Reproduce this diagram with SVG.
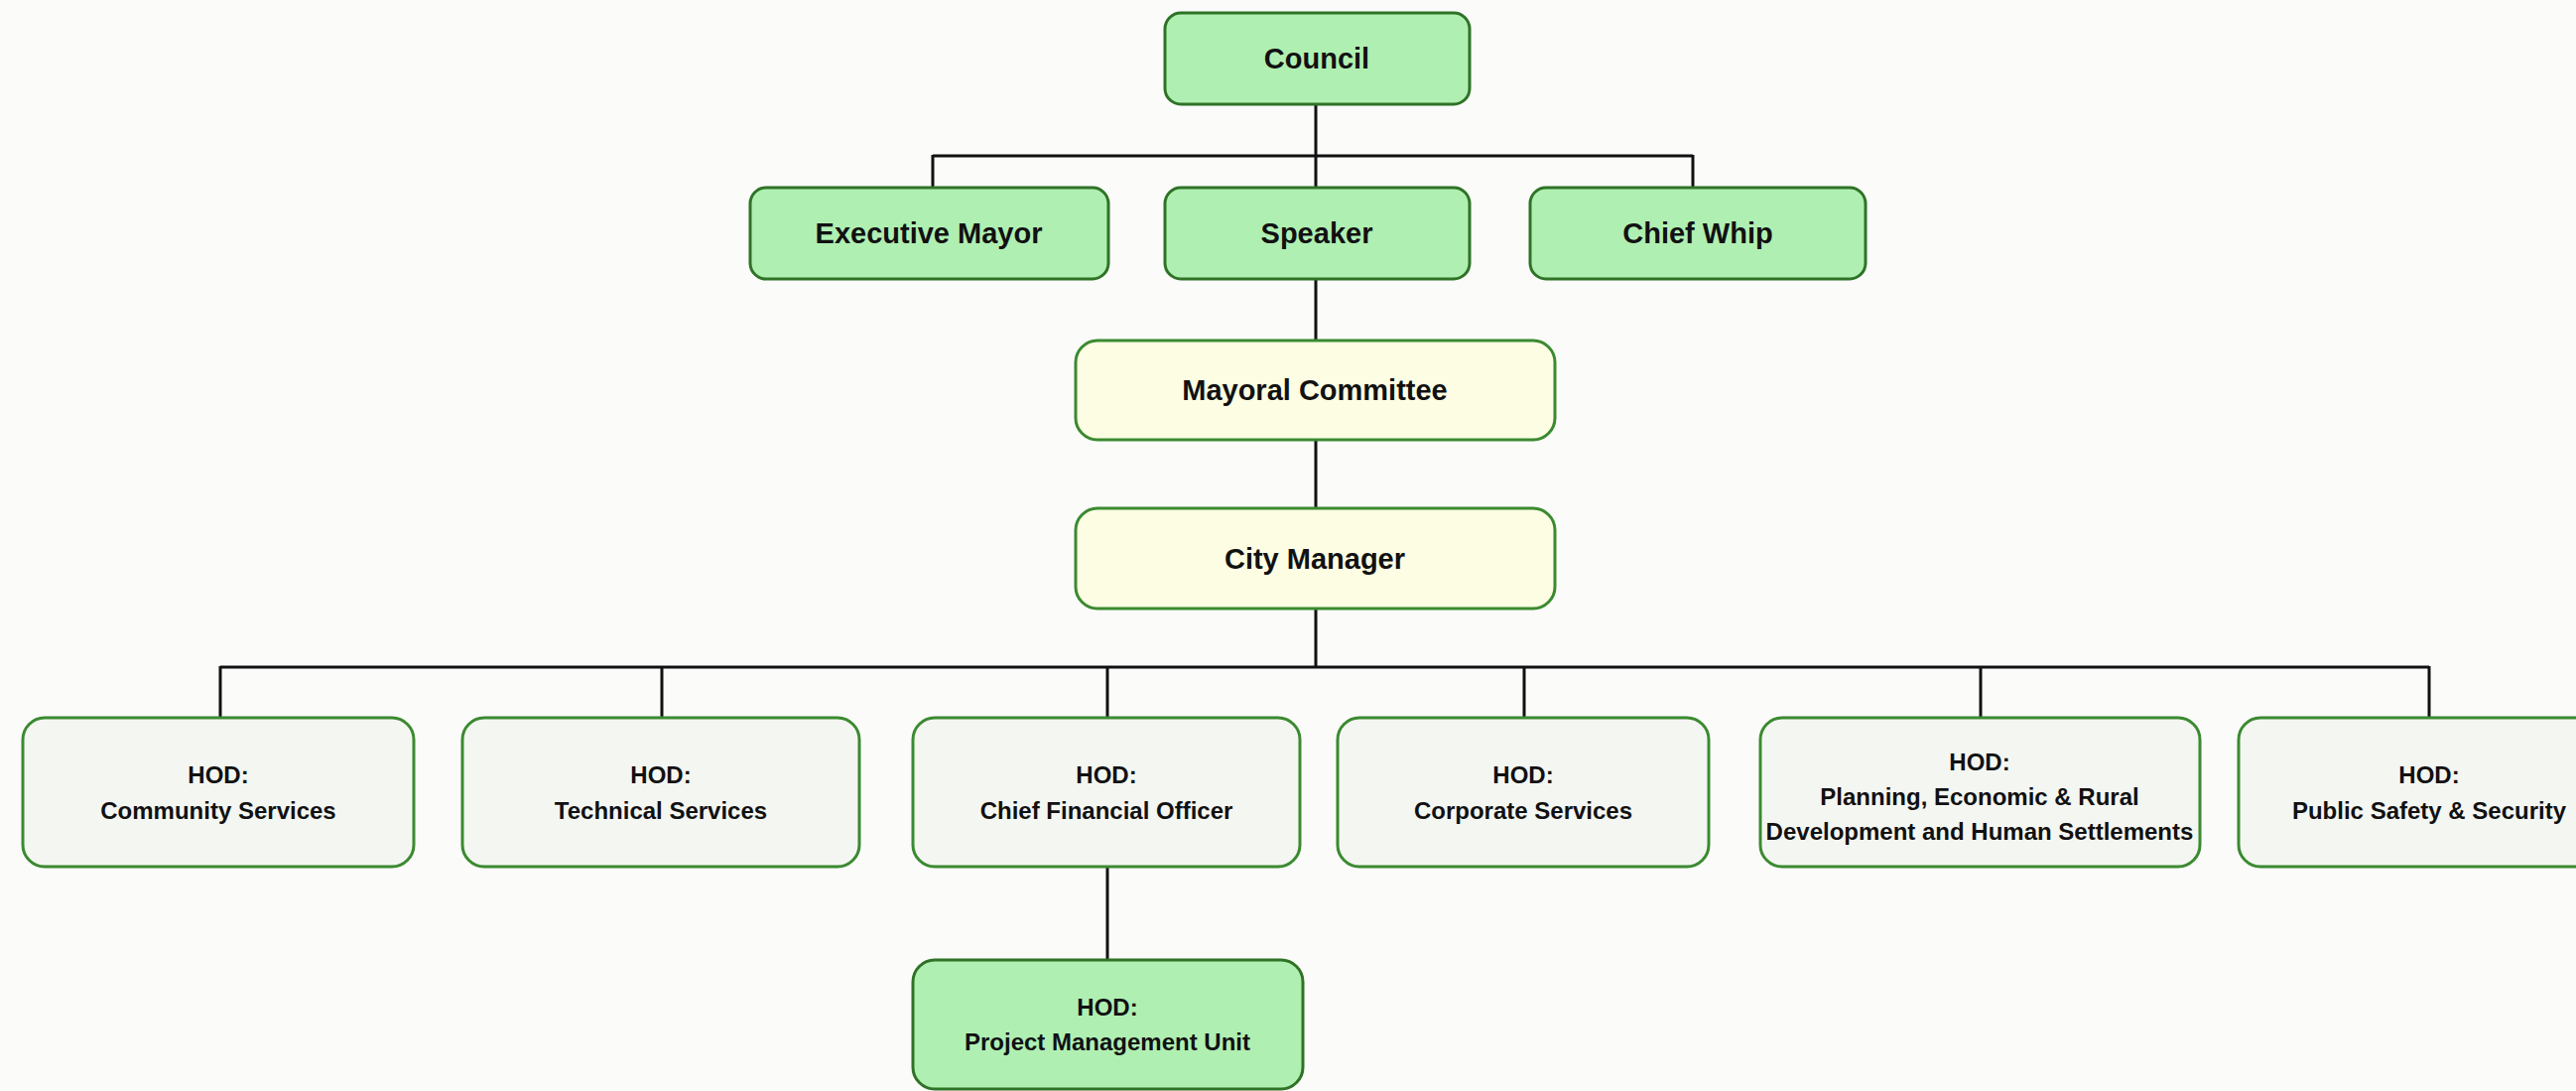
<svg xmlns="http://www.w3.org/2000/svg" width="2596" height="1099" viewBox="0 0 2596 1099">
<style>
.box{stroke:#3b8a30;stroke-width:3}
.g{fill:#b0efb2;stroke:#2f7326}
.y{fill:#fcfde3}
.w{fill:#f4f6f2}
.t{font-family:"Liberation Sans",Arial,sans-serif;font-weight:bold;fill:#111;text-anchor:middle}
.l{font-size:29px}
.s{font-size:24px}
.c{stroke:#111;stroke-width:3;fill:none}
</style>
<rect width="2596" height="1099" fill="#fbfbfa"/>
<g id="connectors">
<path class="c" d="M1326 105V188M940 157H1706M940 156V188M1706 156V188"/>
<path class="c" d="M1326 281V343M1326 443V512M1326 613V672"/>
<path class="c" d="M222 672H2448M222 671V723M667 672V723M1116 672V723M1536 672V723M1996 672V723M2448 671V723"/>
<path class="c" d="M1116 873V967"/>
</g>
<g id="council"><rect class="box g" x="1174" y="13" width="307" height="92" rx="16"/><text class="t l" x="1327" y="69">Council</text></g>
<g id="executive-mayor"><rect class="box g" x="756" y="189" width="361" height="92" rx="16"/><text class="t l" x="936" y="245">Executive Mayor</text></g>
<g id="speaker"><rect class="box g" x="1174" y="189" width="307" height="92" rx="16"/><text class="t l" x="1327" y="245">Speaker</text></g>
<g id="chief-whip"><rect class="box g" x="1542" y="189" width="338" height="92" rx="16"/><text class="t l" x="1711" y="245">Chief Whip</text></g>
<g id="mayoral-committee"><rect class="box y" x="1084" y="343" width="483" height="100" rx="22"/><text class="t l" x="1325" y="403">Mayoral Committee</text></g>
<g id="city-manager"><rect class="box y" x="1084" y="512" width="483" height="101" rx="22"/><text class="t l" x="1325" y="573">City Manager</text></g>
<g id="hod-community"><rect class="box w" x="23" y="723" width="394" height="150" rx="22"/><text class="t s" x="220" y="789">HOD:</text><text class="t s" x="220" y="825">Community Services</text></g>
<g id="hod-technical"><rect class="box w" x="466" y="723" width="400" height="150" rx="22"/><text class="t s" x="666" y="789">HOD:</text><text class="t s" x="666" y="825">Technical Services</text></g>
<g id="hod-cfo"><rect class="box w" x="920" y="723" width="390" height="150" rx="22"/><text class="t s" x="1115" y="789">HOD:</text><text class="t s" x="1115" y="825">Chief Financial Officer</text></g>
<g id="hod-corporate"><rect class="box w" x="1348" y="723" width="374" height="150" rx="22"/><text class="t s" x="1535" y="789">HOD:</text><text class="t s" x="1535" y="825">Corporate Services</text></g>
<g id="hod-planning"><rect class="box w" x="1774" y="723" width="443" height="150" rx="22"/><text class="t s" x="1995" y="776">HOD:</text><text class="t s" x="1995" y="811">Planning, Economic &amp; Rural</text><text class="t s" x="1995" y="846">Development and Human Settlements</text></g>
<g id="hod-public-safety"><rect class="box w" x="2256" y="723" width="390" height="150" rx="22"/><text class="t s" x="2448" y="789">HOD:</text><text class="t s" x="2448" y="825">Public Safety &amp; Security</text></g>
<g id="hod-pmu"><rect class="box g" x="920" y="967" width="393" height="130" rx="22"/><text class="t s" x="1116" y="1023">HOD:</text><text class="t s" x="1116" y="1058">Project Management Unit</text></g>
</svg>
